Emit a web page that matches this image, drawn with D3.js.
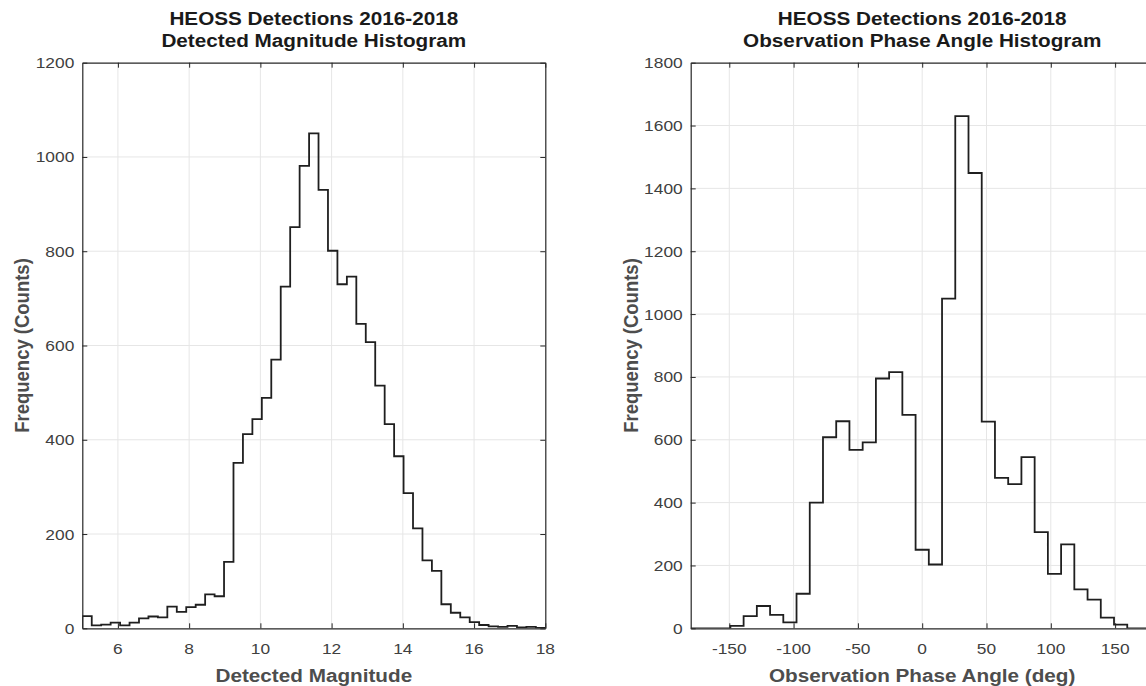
<!DOCTYPE html>
<html><head><meta charset="utf-8">
<script src="https://cdn.jsdelivr.net/npm/d3@7"></script>
<style>body{margin:0;background:#fff} svg{display:block}</style></head>
<body>
<svg id="chart" width="1146" height="686"></svg>
<script>
// ---- data ----
const magCounts = [26,6,8,12,6,12,21,25,23,46,35,45,50,72,68,141,351,412,444,489,570,725,851,981,1050,930,801,730,746,646,607,515,433,365,287,212,144,122,51,33,23,13,7,4,3,5,2,3,1];
const magRange = [5, 18];
const magXTicks = [6, 8, 10, 12, 14, 16, 18];
const magYTicks = [0, 200, 400, 600, 800, 1000, 1200];

const phaseCounts = [0,0,0,8,39,71,43,19,110,400,608,659,568,592,795,815,679,250,203,1049,1630,1449,658,479,459,545,306,173,267,124,91,34,12,0,0];
const phaseRange = [-180, 180];
const phaseXTicks = [-150, -100, -50, 0, 50, 100, 150];
const phaseYTicks = [0, 200, 400, 600, 800, 1000, 1200, 1400, 1600, 1800];

const panels = [
  {counts: magCounts, range: magRange, xTicks: magXTicks, yTicks: magYTicks, xDomain: [5, 18], yDomain: [0, 1200],
   title: ["HEOSS Detections 2016-2018", "Detected Magnitude Histogram"], xLabel: "Detected Magnitude", yLabel: "Frequency (Counts)",
   box: {x0: 82.3, x1: 545.3, y0: 62.7, y1: 628.3}},
  {counts: phaseCounts, range: phaseRange, xTicks: phaseXTicks, yTicks: phaseYTicks, xDomain: [-180, 180], yDomain: [0, 1800],
   title: ["HEOSS Detections 2016-2018", "Observation Phase Angle Histogram"], xLabel: "Observation Phase Angle (deg)", yLabel: "Frequency (Counts)",
   box: {x0: 690.7, x1: 1153.7, y0: 62.7, y1: 628.3}}
];

const svg = d3.select("#chart");
const FONT = "'Liberation Sans', Arial, Helvetica, sans-serif";
const axisColor = "#262626";
const tickLen = 5;
const SX = 1.12; // horizontal stretch of text seen in the reference

function label(parent, x, y, txt, opts) {
  const g = parent.append("g").attr("transform", `translate(${x},${y})${opts.rotate ? " rotate(-90)" : ""} scale(${opts.rotate ? 1 : SX},${opts.rotate ? SX : 1})`);
  g.append("text").attr("text-anchor", opts.anchor || "middle")
    .style("font-family", FONT).style("font-size", opts.size + "px")
    .style("font-weight", opts.bold ? "bold" : "normal").attr("fill", opts.fill)
    .text(txt);
  return g;
}

panels.forEach((p, pi) => {
  const b = p.box;
  const x = d3.scaleLinear().domain(p.xDomain).range([b.x0, b.x1]);
  const y = d3.scaleLinear().domain(p.yDomain).range([b.y1, b.y0]);
  const g = svg.append("g");

  const clipId = "clip" + pi;
  svg.append("clipPath").attr("id", clipId).append("rect")
    .attr("x", b.x0).attr("y", b.y0 - 2).attr("width", b.x1 - b.x0).attr("height", b.y1 - b.y0 + 2);

  // grid
  g.append("g").selectAll("line").data(p.xTicks.filter(t => x(t) > b.x0 + 1 && x(t) < b.x1 - 1)).join("line")
    .attr("x1", d => x(d)).attr("x2", d => x(d)).attr("y1", b.y0).attr("y2", b.y1)
    .attr("stroke", "#e6e6e6").attr("stroke-width", 1);
  g.append("g").selectAll("line").data(p.yTicks.filter(t => y(t) > b.y0 + 1 && y(t) < b.y1 - 1)).join("line")
    .attr("x1", b.x0).attr("x2", b.x1).attr("y1", d => y(d)).attr("y2", d => y(d))
    .attr("stroke", "#e6e6e6").attr("stroke-width", 1);

  // histogram stairs
  const n = p.counts.length;
  const edges = d3.range(n + 1).map(i => p.range[0] + i * (p.range[1] - p.range[0]) / n);
  const pts = [[edges[0], 0]];
  p.counts.forEach((c, i) => pts.push([edges[i], c]));
  pts.push([edges[n], p.counts[n - 1]]);
  pts.push([edges[n], 0]);
  const line = d3.line().x(d => x(d[0])).y(d => y(d[1])).curve(d3.curveStepAfter);
  g.append("path").attr("d", line(pts)).attr("fill", "none")
    .attr("stroke", "#1f1f1f").attr("stroke-width", 1.8).attr("stroke-linejoin", "miter")
    .attr("clip-path", `url(#${clipId})`);

  // axes box with inward ticks (labels drawn separately)
  const bottomAxis = d3.axisBottom(x).tickValues(p.xTicks).tickSizeInner(-tickLen).tickSizeOuter(0).tickFormat("");
  const topAxis = d3.axisTop(x).tickValues(p.xTicks).tickSizeInner(-tickLen).tickSizeOuter(0).tickFormat("");
  const leftAxis = d3.axisLeft(y).tickValues(p.yTicks).tickSizeInner(-tickLen).tickSizeOuter(0).tickFormat("");
  const rightAxis = d3.axisRight(y).tickValues(p.yTicks).tickSizeInner(-tickLen).tickSizeOuter(0).tickFormat("");
  const styleAxis = sel => {
    sel.select(".domain").attr("stroke", axisColor).attr("stroke-width", 1.2);
    sel.selectAll(".tick line").attr("stroke", axisColor).attr("stroke-width", 1);
  };
  g.append("g").attr("transform", `translate(0,${b.y1})`).call(bottomAxis).call(styleAxis);
  g.append("g").attr("transform", `translate(0,${b.y0})`).call(topAxis).call(styleAxis);
  g.append("g").attr("transform", `translate(${b.x0},0)`).call(leftAxis).call(styleAxis);
  g.append("g").attr("transform", `translate(${b.x1},0)`).call(rightAxis).call(styleAxis);

  // tick labels
  const tickOpts = {size: 15.5, fill: "#404040"};
  p.xTicks.forEach(t => label(g, x(t), b.y1 + 25.5, String(t), tickOpts));
  p.yTicks.forEach(t => label(g, b.x0 - 8, y(t) + 5.5, String(t), Object.assign({anchor: "end"}, tickOpts)));

  const cx = (b.x0 + b.x1) / 2, cy = (b.y0 + b.y1) / 2;
  label(g, cx, 24.6, p.title[0], {size: 18.5, bold: true, fill: "#1a1a1a"});
  label(g, cx, 46.6, p.title[1], {size: 18.5, bold: true, fill: "#1a1a1a"});
  label(g, cx, 681.5, p.xLabel, {size: 18.5, bold: true, fill: "#4d4d4d"});
  label(g, b.x0 - 53, cy, p.yLabel, {size: 18.5, bold: true, fill: "#4d4d4d", rotate: true});
});
</script>
</body></html>
